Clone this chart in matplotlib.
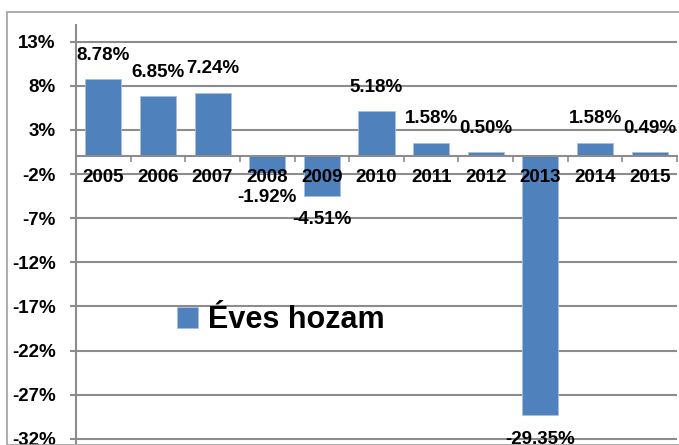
import matplotlib.pyplot as plt
from matplotlib.patches import Rectangle

years = ['2005', '2006', '2007', '2008', '2009', '2010',
         '2011', '2012', '2013', '2014', '2015']
returns = [8.78, 6.85, 7.24, -1.92, -4.51, 5.18, 1.58, 0.50, -29.35, 1.58, 0.49]
y_ticks = [13, 8, 3, -2, -7, -12, -17, -22, -27, -32]

bar_color = '#4f81bd'
grid_color = '#8c8c8c'

plt.rcParams['font.family'] = ['Liberation Sans', 'DejaVu Sans']
plt.rcParams['font.weight'] = 'bold'

fig = plt.figure(figsize=(6.79, 4.45), dpi=100)
ax = fig.add_axes([76 / 679, 0, 601 / 679, 1 - 25 / 445])

# gridlines behind bars, axis (labels, zero line) on top of bars
for t in y_ticks:
    ax.axhline(t, color=grid_color, linewidth=1.5, zorder=0.5)

x = list(range(len(years)))
ax.bar(x, returns, width=0.66, color=bar_color, edgecolor='#a7c0de',
       linewidth=0.6, label='Éves hozam', zorder=1)
ax.set_axisbelow(False)

# data labels above / below bars
for xi, v in zip(x, returns):
    off = 17 if v >= 0 else -17
    ax.annotate(f'{v:.2f}%', (xi, v), xytext=(0, off), textcoords='offset points',
                ha='center', va='center', fontsize=13.5, fontweight='bold', zorder=4)

ax.set_xlim(-0.5, len(years) - 0.5)
ax.set_ylim(-32.7, 14.9)
ax.set_yticks(y_ticks)
ax.set_yticklabels([f'{t}%' for t in y_ticks])

ax.set_xticks(x)
ax.set_xticklabels(years)
ax.set_xticks([i - 0.5 for i in range(len(years) + 1)], minor=True)
ax.tick_params(axis='x', which='major', length=0, pad=9, labelsize=13.5)
ax.tick_params(axis='x', which='minor', length=4, width=1.2, color=grid_color, direction='out')
ax.tick_params(axis='y', length=4.5, width=1.5, color=grid_color, labelsize=13.5, pad=10)

ax.spines['bottom'].set_position(('data', 0))
ax.spines['bottom'].set_color(grid_color)
ax.spines['bottom'].set_linewidth(1.5)
ax.spines['left'].set_color(grid_color)
ax.spines['left'].set_linewidth(1.5)
ax.spines['top'].set_visible(False)
ax.spines['right'].set_visible(False)

ax.legend(loc='center left', bbox_to_anchor=(177 / 679, 1 - 320 / 445),
          bbox_transform=fig.transFigure, frameon=False,
          handlelength=0.7, handleheight=0.7, handletextpad=0.3,
          borderpad=0, borderaxespad=0, prop={'size': 22, 'weight': 'bold'})

# outer chart border
fig.patches.append(Rectangle((7 / 679, 0), 1, 1 - 12 / 445, transform=fig.transFigure,
                             fill=False, edgecolor='#a0a0a0', linewidth=1.2))

plt.savefig('out.png', dpi=100)
